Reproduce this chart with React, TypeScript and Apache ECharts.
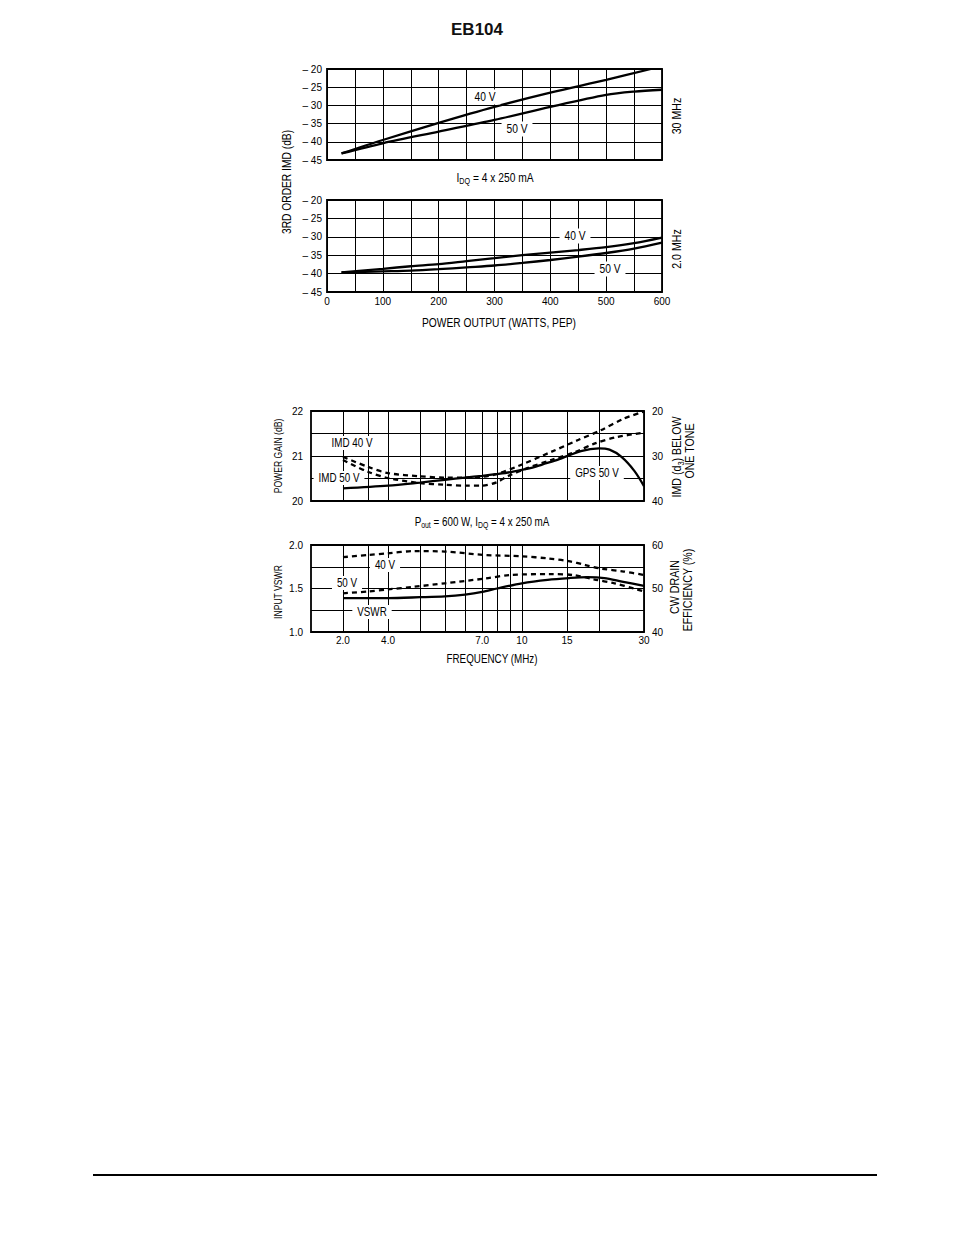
import { useEffect, useRef } from 'react';
import * as echarts from 'echarts';

const SANS = '"Liberation Sans", Arial, sans-serif';
// the original lettering is a condensed grotesque; graphic texts are squeezed horizontally to match
const SQUEEZE = 0.82;

// 30 MHz: 3rd order IMD (dB) vs power output (W PEP)
const pep30v40 = [26, 100, 200, 300, 400, 500, 580];
const imd30v40 = [-43.2, -39.5, -34.8, -30.4, -26.5, -23.0, -20.0];
const pep30v50 = [26, 100, 200, 300, 400, 500, 550, 600];
const imd30v50 = [-43.2, -40.4, -37.2, -34.0, -30.4, -27.1, -26.2, -25.7];

// 2.0 MHz
const pep2 = [26, 100, 150, 200, 250, 300, 350, 400, 450, 500, 550, 600];
const imd2v40 = [-39.7, -38.7, -38.0, -37.4, -36.6, -35.8, -35.0, -34.3, -33.6, -32.8, -31.7, -30.2];
const imd2v50 = [-39.7, -39.4, -39.2, -38.8, -38.3, -37.8, -37.1, -36.3, -35.4, -34.4, -33.2, -31.6];

// power gain (dB) vs frequency (MHz), 50 V
const gpsFreq = [2, 3, 4, 5, 6, 7, 8, 9, 10, 11, 12, 14, 17, 20, 22, 24.5, 27.5, 30];
const gps50 = [20.28, 20.34, 20.41, 20.47, 20.52, 20.56, 20.6, 20.64, 20.69, 20.74, 20.81, 20.93, 21.11, 21.17, 21.14, 20.98, 20.67, 20.33];

// IMD (d3) below one tone, dB
const imdFreq40 = [2, 2.5, 3, 4, 5, 6, 7, 8, 9.9, 13, 16.5, 20.3, 25, 30];
const imd40 = [30.2, 32.4, 33.8, 34.5, 34.8, 34.8, 34.6, 34.0, 32.0, 29.1, 26.5, 24.3, 21.7, 20.1];
const imdFreq50 = [2, 2.5, 3, 4, 5, 6, 7, 8, 8.8, 10.5, 13, 16.2, 19.3, 23.5, 30];
const imd50 = [30.9, 33.5, 34.9, 36.0, 36.4, 36.6, 36.6, 35.8, 34.5, 32.7, 30.9, 29.1, 27.2, 25.8, 24.8];

// input VSWR
const vswrFreq = [2, 3, 4, 5, 6, 7, 8, 10, 12.6, 15.3, 18, 21, 24.6, 30];
const vswr = [1.39, 1.39, 1.40, 1.41, 1.43, 1.46, 1.50, 1.56, 1.60, 1.62, 1.63, 1.62, 1.58, 1.53];

// CW drain efficiency (%)
const effFreq40 = [2, 2.5, 3, 3.8, 5, 7.2, 10, 12.7, 15.2, 17.7, 20.3, 25, 30];
const eff40 = [57.2, 57.7, 58.1, 58.6, 58.5, 57.7, 57.4, 56.9, 56.3, 55.4, 54.6, 53.9, 53.1];
const effFreq50 = [2, 2.5, 3, 3.8, 5, 7.2, 9, 12.7, 15.9, 19.1, 23, 27.4, 30];
const eff50 = [48.9, 49.3, 49.8, 50.4, 51.2, 52.3, 53.1, 53.3, 53.1, 52.1, 51.2, 50.0, 49.3];

// frequency axis grid lines and labels (label "4.0" sits on the 3 MHz line in the original)
const freqGridLines = [2, 2.5, 3, 4, 5, 6, 7, 8, 9, 10, 15, 20, 30];
const freqTickAt = [2, 3, 7, 10, 15, 30];
const freqTickText = ['2.0', '4.0', '7.0', '10', '15', '30'];

const zip = (xs: number[], ys: number[]) => xs.map((x, i) => [x, ys[i]]);

const topTick = { color: '#000', fontFamily: SANS, fontSize: 10 };
const lowTick = { color: '#000', fontFamily: SANS, fontSize: 10 };
const gridLine = { show: true, lineStyle: { color: '#000', width: 1 } };
const frame = { show: true, borderColor: '#000', borderWidth: 1.8, outerBoundsMode: 'none' };

const solid = { color: '#000', width: 2.3 };
const dashed = { color: '#000', width: 2.3, type: [5, 4] };

function text(t: string, x: number, y: number, size: number, extra: any = {}) {
  const { rotate, box, rich } = extra;
  return {
    type: 'text',
    x,
    y,
    z: 100,
    scaleX: SQUEEZE,
    rotation: rotate ? Math.PI / 2 : 0,
    style: {
      text: t,
      fill: '#000',
      fontFamily: SANS,
      fontSize: size,
      align: 'center',
      verticalAlign: 'middle',
      backgroundColor: box ? '#fff' : undefined,
      padding: box ? [1, 6] : undefined,
      rich: rich
        ? {
            s: {
              fontFamily: SANS,
              fontSize: size * 0.7,
              fill: '#000',
              color: '#000',
              padding: [size * 0.55, 0, 0, 0],
            },
          }
        : undefined,
    },
  };
}

function freqMarkLines(withLabels: boolean) {
  return {
    silent: true,
    symbol: ['none', 'none'],
    lineStyle: { color: '#000', width: 1, type: 'solid' },
    data: freqGridLines.map((v) => {
      const i = freqTickAt.indexOf(v);
      return {
        xAxis: v,
        label:
          withLabels && i >= 0
            ? { show: true, position: 'start', distance: 3, formatter: freqTickText[i], ...lowTick }
            : { show: false },
      };
    }),
  };
}

export default function App() {
  const chartRef = useRef<HTMLDivElement | null>(null);

  useEffect(() => {
    const el = chartRef.current;
    if (!el) return;
    const chart = echarts.init(el, undefined, { renderer: 'svg' });

    const powerAxis = (idx: number, labels: boolean) => ({
      type: 'value',
      gridIndex: idx,
      min: 0,
      max: 600,
      interval: 50,
      axisLine: { show: false },
      axisTick: { show: false },
      splitLine: gridLine,
      axisLabel: {
        show: labels,
        ...topTick,
        margin: 4,
        formatter: (v: number) => (v % 100 === 0 ? String(v) : ''),
      },
    });
    const imdAxis = (idx: number) => ({
      type: 'value',
      gridIndex: idx,
      min: -45,
      max: -20,
      interval: 5,
      axisLine: { show: false },
      axisTick: { show: false },
      splitLine: gridLine,
      axisLabel: { ...topTick, margin: 5, formatter: (v: number) => '– ' + Math.abs(v) },
    });
    const freqAxis = (idx: number) => ({
      type: 'log',
      logBase: 10,
      gridIndex: idx,
      min: 1.5,
      max: 30,
      axisLine: { show: false },
      axisTick: { show: false },
      splitLine: { show: false },
      axisLabel: { show: false },
    });

    chart.setOption({
      animation: false,
      backgroundColor: '#fff',
      grid: [
        { left: 327, top: 69, width: 335, height: 91, ...frame },
        { left: 327, top: 200, width: 335, height: 92, ...frame },
        { left: 311, top: 411, width: 333, height: 90, ...frame },
        { left: 311, top: 545, width: 333, height: 87, ...frame },
      ],
      xAxis: [powerAxis(0, false), powerAxis(1, true), freqAxis(2), freqAxis(3)],
      yAxis: [
        imdAxis(0),
        imdAxis(1),
        {
          type: 'value',
          gridIndex: 2,
          min: 20,
          max: 22,
          interval: 0.5,
          axisLine: { show: false },
          axisTick: { show: false },
          splitLine: gridLine,
          axisLabel: { ...lowTick, margin: 8, formatter: (v: number) => (Number.isInteger(v) ? String(v) : '') },
        },
        {
          type: 'value',
          gridIndex: 2,
          position: 'right',
          inverse: true,
          min: 20,
          max: 40,
          interval: 5,
          axisLine: { show: false },
          axisTick: { show: false },
          splitLine: { show: false },
          axisLabel: { ...lowTick, margin: 8, formatter: (v: number) => (v % 10 === 0 ? String(v) : '') },
        },
        {
          type: 'value',
          gridIndex: 3,
          min: 1,
          max: 2,
          interval: 0.25,
          axisLine: { show: false },
          axisTick: { show: false },
          splitLine: gridLine,
          axisLabel: { ...lowTick, margin: 8, formatter: (v: number) => ((v * 2) % 1 === 0 ? v.toFixed(1) : '') },
        },
        {
          type: 'value',
          gridIndex: 3,
          position: 'right',
          min: 40,
          max: 60,
          interval: 5,
          axisLine: { show: false },
          axisTick: { show: false },
          splitLine: { show: false },
          axisLabel: { ...lowTick, margin: 8, formatter: (v: number) => (v % 10 === 0 ? String(v) : '') },
        },
      ],
      series: [
        { name: '30 MHz 40 V', type: 'line', xAxisIndex: 0, yAxisIndex: 0, data: zip(pep30v40, imd30v40), smooth: 0.3, showSymbol: false, lineStyle: solid },
        { name: '30 MHz 50 V', type: 'line', xAxisIndex: 0, yAxisIndex: 0, data: zip(pep30v50, imd30v50), smooth: 0.3, showSymbol: false, lineStyle: solid },
        { name: '2 MHz 40 V', type: 'line', xAxisIndex: 1, yAxisIndex: 1, data: zip(pep2, imd2v40), smooth: 0.3, showSymbol: false, lineStyle: solid },
        { name: '2 MHz 50 V', type: 'line', xAxisIndex: 1, yAxisIndex: 1, data: zip(pep2, imd2v50), smooth: 0.3, showSymbol: false, lineStyle: solid },
        {
          name: 'GPS 50 V',
          type: 'line',
          xAxisIndex: 2,
          yAxisIndex: 2,
          data: zip(gpsFreq, gps50),
          smooth: 0.3,
          showSymbol: false,
          lineStyle: solid,
          markLine: freqMarkLines(false),
        },
        { name: 'IMD 40 V', type: 'line', xAxisIndex: 2, yAxisIndex: 3, data: zip(imdFreq40, imd40), smooth: 0.3, showSymbol: false, lineStyle: dashed },
        { name: 'IMD 50 V', type: 'line', xAxisIndex: 2, yAxisIndex: 3, data: zip(imdFreq50, imd50), smooth: 0.3, showSymbol: false, lineStyle: dashed },
        {
          name: 'VSWR',
          type: 'line',
          xAxisIndex: 3,
          yAxisIndex: 4,
          data: zip(vswrFreq, vswr),
          smooth: 0.3,
          showSymbol: false,
          lineStyle: solid,
          markLine: freqMarkLines(true),
        },
        { name: 'Eff 40 V', type: 'line', xAxisIndex: 3, yAxisIndex: 5, data: zip(effFreq40, eff40), smooth: 0.3, showSymbol: false, lineStyle: dashed },
        { name: 'Eff 50 V', type: 'line', xAxisIndex: 3, yAxisIndex: 5, data: zip(effFreq50, eff50), smooth: 0.3, showSymbol: false, lineStyle: dashed },
      ],
      graphic: [
        {
          type: 'text',
          x: 477,
          y: 29,
          style: { text: 'EB104', fill: '#111', fontFamily: SANS, fontWeight: 'bold', fontSize: 17, align: 'center', verticalAlign: 'middle' },
        },
        text('40 V', 485, 97, 12.5, { box: true }),
        text('50 V', 517, 129, 12.5, { box: true }),
        text('30 MHz', 677, 116, 13, { rotate: true }),
        text('I{s|DQ} = 4 x 250 mA', 495, 178, 12.5, { rich: true }),
        text('40 V', 575, 236, 12.5, { box: true }),
        text('50 V', 610, 269, 12.5, { box: true }),
        text('2.0 MHz', 677, 249, 13, { rotate: true }),
        text('3RD ORDER IMD (dB)', 287, 182, 12.5, { rotate: true }),
        text('POWER OUTPUT (WATTS, PEP)', 499, 323, 12.5),

        text('POWER GAIN (dB)', 278, 456, 10.5, { rotate: true }),
        text('IMD (d{s|3}) BELOW', 677, 457, 13, { rotate: true, rich: true }),
        text('ONE TONE', 690, 451, 13, { rotate: true }),
        text('IMD 40 V', 352, 443, 12, { box: true }),
        text('IMD 50 V', 339, 478, 12, { box: true }),
        text('GPS 50 V', 597, 473, 12, { box: true }),
        text('P{s|out} = 600 W, I{s|DQ} = 4 x 250 mA', 482, 522, 12, { rich: true }),

        text('INPUT VSWR', 278, 592, 10.5, { rotate: true }),
        text('CW DRAIN', 675, 587, 13, { rotate: true }),
        text('EFFICIENCY (%)', 688, 590, 13, { rotate: true }),
        text('40 V', 385, 565, 12, { box: true }),
        text('50 V', 347, 583, 12, { box: true }),
        text('VSWR', 372, 612, 12, { box: true }),
        text('FREQUENCY (MHz)', 492, 659, 12),
        {
          type: 'line',
          shape: { x1: 93, y1: 1175, x2: 877, y2: 1175 },
          style: { stroke: '#000', lineWidth: 2 },
        },
      ],
    });

    return () => {
      chart.dispose();
    };
  }, []);

  return (
    <div
      ref={chartRef}
      style={{ position: 'absolute', left: 0, top: 0, width: 954, height: 1235 }}
      aria-label="EB104 IMD, power gain, VSWR and efficiency"
    />
  );
}
